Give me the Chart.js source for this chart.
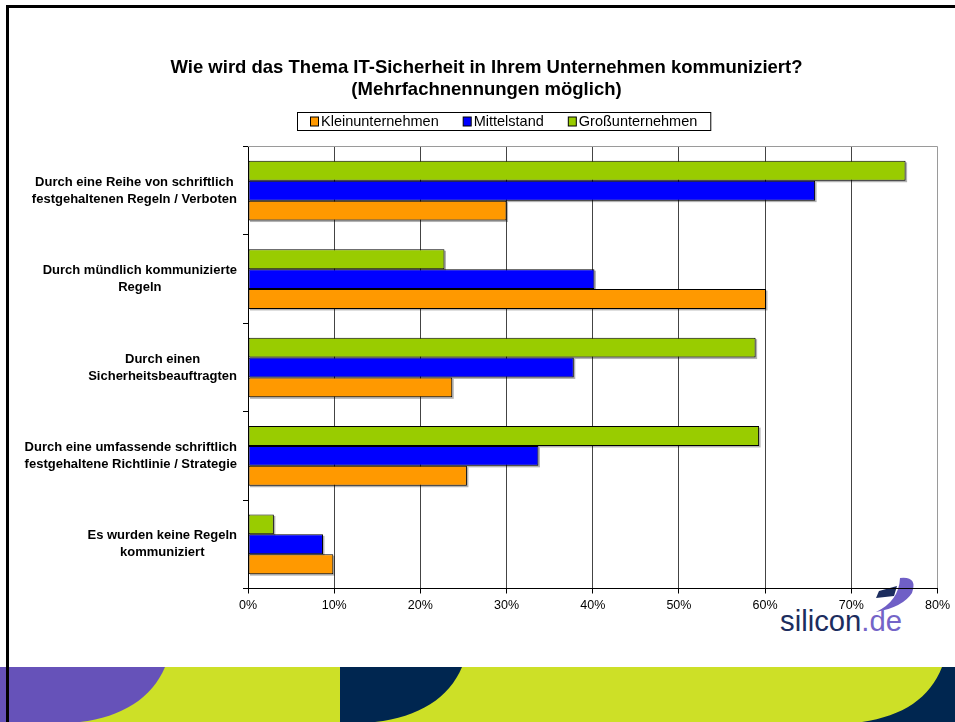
<!DOCTYPE html>
<html lang="de">
<head>
  <meta charset="UTF-8">
  <title>IT-Sicherheit: Kommunikation im Unternehmen</title>
  <script src="https://cdn.jsdelivr.net/npm/chart.js"></script>
  <style>
    body {
      margin: 0;
      background: #fff;
      overflow: hidden;
      font-family: "Liberation Sans", Arial, sans-serif;
    }
    #wrap {
      position: relative;
      width: 955px;
      height: 722px;
    }
    #deko, #grafik, #rahmen {
      position: absolute;
      left: 0;
      top: 0;
    }
    #deko { z-index: 0; }
    #grafik { z-index: 1; }
    #rahmen {
      left: 6px;
      top: 5px;
      width: 960px;
      height: 730px;
      border-top: 3px solid #000;
      border-left: 3px solid #000;
      z-index: 2;
    }
  </style>
</head>
<body>
<div id="wrap">
  <svg id="deko" width="955" height="722">
    <rect x="0" y="667" width="955" height="55" fill="#cde027"/>
    <path d="M0 667 L165 667 C152 698 122 717 80 722 L0 722 Z" fill="#6652b9"/>
    <path d="M340 667 L462 667 C449 698 419 717 375 722 L340 722 Z" fill="#002650"/>
    <path d="M942 667 L955 667 L955 722 L862 722 C903 716 930 698 942 667 Z" fill="#002650"/>
    <path d="M879 591 L897 586 L894 596 L876 598 Z" fill="#1c2d5e"/>
    <path d="M900 578 Q918 576 912 593 Q903 607 876 612 Q899 601 900 578 Z" fill="#6f5fc6"/>
    <text x="780" y="631" font-family="Liberation Sans, Arial, sans-serif" font-size="29"
          textLength="122" lengthAdjust="spacingAndGlyphs"><tspan fill="#1c2d5e">silicon</tspan><tspan fill="#7464c8">.de</tspan></text>
  </svg>
  <canvas id="grafik" width="955" height="722"></canvas>
  <div id="rahmen"></div>
</div>

<script>
  // Daten (Prozent)
  const kategorien = [
    ['Durch eine Reihe von schriftlich', 'festgehaltenen Regeln / Verboten'],
    ['Durch mündlich kommunizierte', 'Regeln'],
    ['Durch einen', 'Sicherheitsbeauftragten'],
    ['Durch eine umfassende schriftlich', 'festgehaltene Richtlinie / Strategie'],
    ['Es wurden keine Regeln', 'kommuniziert']
  ];
  const kleinunternehmen = [30.0, 60.1, 23.7, 25.4, 9.9];
  const mittelstand = [65.8, 40.2, 37.8, 33.7, 8.7];
  const grossunternehmen = [76.3, 22.8, 58.9, 59.3, 3.0];
  const xMax = 80;
  const xSchritt = 10;

  const schrift = '"Liberation Sans", Arial, sans-serif';

  // leichter Schatten hinter den Balken
  const schatten = {
    id: 'schatten',
    beforeDatasetsDraw(chart) {
      const ctx = chart.ctx;
      ctx.save();
      ctx.fillStyle = 'rgba(0,0,0,0.3)';
      chart.data.datasets.forEach((ds, i) => {
        chart.getDatasetMeta(i).data.forEach(bar => {
          const p = bar.getProps(['x', 'y', 'base', 'height'], true);
          ctx.fillRect(p.base + 1.5, p.y - p.height / 2 + 1.5, p.x - p.base, p.height);
        });
      });
      ctx.restore();
    }
  };

  // Rahmen oben, Kategorienbeschriftung, Legende mit Kasten
  const extras = {
    id: 'extras',
    afterDraw(chart) {
      const ctx = chart.ctx;
      const a = chart.chartArea;
      ctx.save();
      ctx.strokeStyle = '#9a9a9a';
      ctx.lineWidth = 1;
      ctx.beginPath();
      ctx.moveTo(a.left, a.top);
      ctx.lineTo(a.right, a.top);
      ctx.stroke();

      // Kategorien: jeder Block zentriert, rechtsbündig zur Achse
      const y = chart.scales.y;
      ctx.fillStyle = '#000';
      ctx.font = 'bold 13px ' + schrift;
      ctx.textAlign = 'center';
      ctx.textBaseline = 'middle';
      kategorien.forEach((zeilen, i) => {
        const breite = Math.max(...zeilen.map(z => ctx.measureText(z).width));
        const mx = a.left - 11 - breite / 2;
        const my = y.getPixelForTick(i);
        zeilen.forEach((z, j) => {
          ctx.fillText(z, mx, my + (j - (zeilen.length - 1) / 2) * 17);
        });
      });

      // Legende
      ctx.font = '14.5px ' + schrift;
      ctx.textAlign = 'left';
      const eintraege = chart.data.datasets.slice().reverse();
      const breiten = eintraege.map(ds => ctx.measureText(ds.label).width);
      const abstand = 24;
      const gesamt = breiten.reduce((s, b) => s + b + 11, 0) + abstand * (eintraege.length - 1);
      let lx = Math.round(503.5 - gesamt / 2);
      const ly = 121.5;
      ctx.strokeStyle = '#000';
      ctx.strokeRect(lx - 13 + 0.5, 112.5, gesamt + 26, 18);
      eintraege.forEach((ds, i) => {
        ctx.fillStyle = ds.backgroundColor;
        ctx.fillRect(lx + 0.5, ly - 4.5, 8, 9);
        ctx.strokeRect(lx + 0.5, ly - 4.5, 8, 9);
        ctx.fillStyle = '#000';
        ctx.fillText(ds.label, lx + 11, ly + 0.5);
        lx += 11 + breiten[i] + abstand;
      });
      ctx.restore();
    }
  };

  new Chart(document.getElementById('grafik'), {
    type: 'bar',
    data: {
      labels: kategorien,
      datasets: [
        { label: 'Großunternehmen', data: grossunternehmen, backgroundColor: '#99cc00' },
        { label: 'Mittelstand', data: mittelstand, backgroundColor: '#0000ff' },
        { label: 'Kleinunternehmen', data: kleinunternehmen, backgroundColor: '#ff9900' }
      ]
    },
    options: {
      indexAxis: 'y',
      responsive: false,
      animation: false,
      datasets: {
        bar: {
          borderColor: '#000',
          borderWidth: 1,
          borderSkipped: false,
          categoryPercentage: 0.675,
          barPercentage: 1
        }
      },
      layout: { padding: { left: 35, right: 17, top: 0, bottom: 0 } },
      plugins: {
        legend: { display: false },
        tooltip: { enabled: false },
        title: {
          display: true,
          text: ['Wie wird das Thema IT-Sicherheit in Ihrem Unternehmen kommuniziert?',
                 '(Mehrfachnennungen möglich)'],
          color: '#000',
          font: { family: schrift, size: 18.5, weight: 'bold', lineHeight: '22px' },
          padding: { top: 57, bottom: 45.5 }
        }
      },
      scales: {
        x: {
          min: 0,
          max: xMax,
          ticks: {
            stepSize: xSchritt,
            color: '#000',
            padding: 5,
            font: { family: schrift, size: 12.5 },
            callback: v => v + '%'
          },
          grid: {
            color: ctx => ctx.tick && ctx.tick.value === xMax ? '#9a9a9a' : '#444',
            tickColor: '#000',
            tickLength: 5
          },
          border: { color: '#000' },
          afterFit: s => { s.height = 133.5; }
        },
        y: {
          ticks: { display: false },
          grid: {
            drawOnChartArea: false,
            tickColor: '#000',
            tickLength: 5
          },
          border: { color: '#000' },
          afterFit: s => { s.width = 213; }
        }
      }
    },
    plugins: [schatten, extras]
  });
</script>
</body>
</html>
